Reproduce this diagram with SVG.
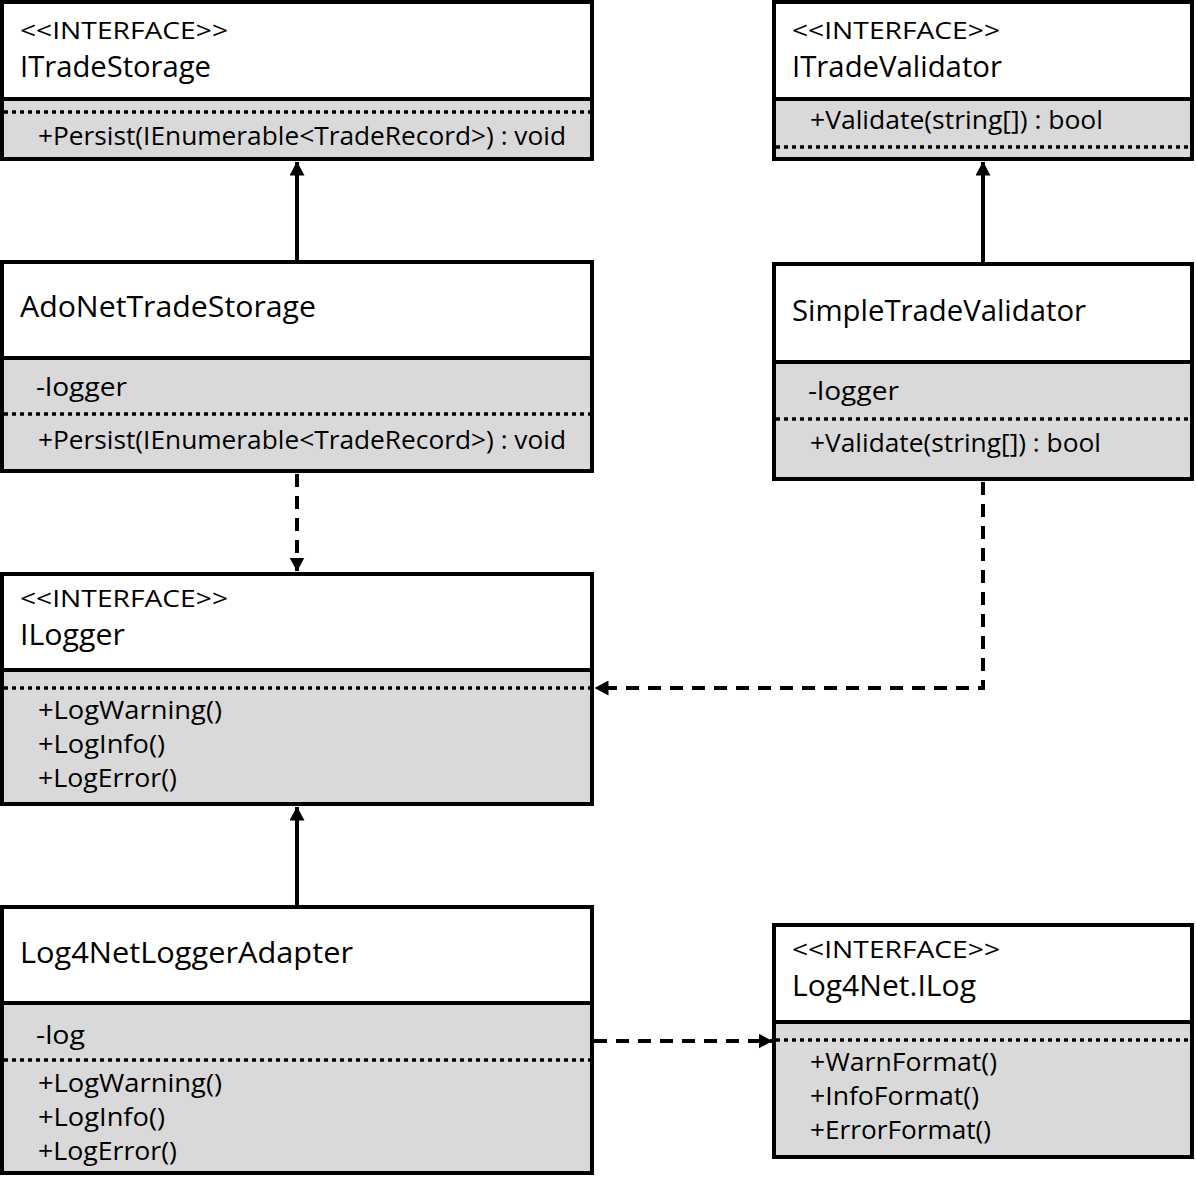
<svg xmlns="http://www.w3.org/2000/svg" width="1196" height="1177" viewBox="0 0 1196 1177">
<style>
.hdr{fill:#fff}
.body{fill:#d9d9d9}
.frame{fill:none;stroke:#000;stroke-width:4}
.div{stroke:#000;stroke-width:4}
.dot{stroke:#000;stroke-width:3.5;stroke-dasharray:4 4}
text{font-family:"Open Sans","Noto Sans",sans-serif;fill:#000}
.st{font-size:23px}
.nm{font-size:29px}
.mb{font-size:25px}
.con{fill:none;stroke:#000;stroke-width:4}
.dash{stroke-dasharray:13 9}
</style>
<defs>
<marker id="tri" viewBox="0 0 14 15" refX="13.5" refY="7.5" markerWidth="14" markerHeight="15" markerUnits="userSpaceOnUse" orient="auto">
<path d="M0,0 L14,7.5 L0,15 Z" fill="#000"/>
</marker>
</defs>

<g id="ITradeStorage">
<rect class="body" x="2" y="2" width="590" height="157"/>
<rect class="hdr" x="2" y="2" width="590" height="97"/>
<line class="div" x1="2" y1="99" x2="592" y2="99"/>
<line class="dot" x1="4" y1="112" x2="590" y2="112"/>
<rect class="frame" x="2" y="2" width="590" height="157"/>
<text class="st" x="20" y="39" textLength="208" lengthAdjust="spacingAndGlyphs">&lt;&lt;INTERFACE&gt;&gt;</text>
<text class="nm" x="20" y="77" textLength="191" lengthAdjust="spacingAndGlyphs">ITradeStorage</text>
<text class="mb" x="38" y="145" textLength="528" lengthAdjust="spacingAndGlyphs">+Persist(IEnumerable&lt;TradeRecord&gt;) : void</text>
</g>

<g id="ITradeValidator">
<rect class="body" x="774" y="2" width="418" height="157"/>
<rect class="hdr" x="774" y="2" width="418" height="97"/>
<line class="div" x1="774" y1="99" x2="1192" y2="99"/>
<line class="dot" x1="776" y1="147" x2="1190" y2="147"/>
<rect class="frame" x="774" y="2" width="418" height="157"/>
<text class="st" x="792" y="39" textLength="208" lengthAdjust="spacingAndGlyphs">&lt;&lt;INTERFACE&gt;&gt;</text>
<text class="nm" x="792" y="77" textLength="210" lengthAdjust="spacingAndGlyphs">ITradeValidator</text>
<text class="mb" x="810" y="129" textLength="293" lengthAdjust="spacingAndGlyphs">+Validate(string[]) : bool</text>
</g>

<g id="AdoNetTradeStorage">
<rect class="body" x="2" y="262" width="590" height="209"/>
<rect class="hdr" x="2" y="262" width="590" height="96"/>
<line class="div" x1="2" y1="358" x2="592" y2="358"/>
<line class="dot" x1="4" y1="414" x2="590" y2="414"/>
<rect class="frame" x="2" y="262" width="590" height="209"/>
<text class="nm" x="20" y="317" textLength="296" lengthAdjust="spacingAndGlyphs">AdoNetTradeStorage</text>
<text class="mb" x="36" y="396" textLength="91" lengthAdjust="spacingAndGlyphs">-logger</text>
<text class="mb" x="38" y="449" textLength="528" lengthAdjust="spacingAndGlyphs">+Persist(IEnumerable&lt;TradeRecord&gt;) : void</text>
</g>

<g id="SimpleTradeValidator">
<rect class="body" x="774" y="264" width="418" height="215"/>
<rect class="hdr" x="774" y="264" width="418" height="98"/>
<line class="div" x1="774" y1="362" x2="1192" y2="362"/>
<line class="dot" x1="776" y1="419" x2="1190" y2="419"/>
<rect class="frame" x="774" y="264" width="418" height="215"/>
<text class="nm" x="792" y="321" textLength="294" lengthAdjust="spacingAndGlyphs">SimpleTradeValidator</text>
<text class="mb" x="808" y="400" textLength="91" lengthAdjust="spacingAndGlyphs">-logger</text>
<text class="mb" x="810" y="452" textLength="291" lengthAdjust="spacingAndGlyphs">+Validate(string[]) : bool</text>
</g>

<g id="ILogger">
<rect class="body" x="2" y="574" width="590" height="230"/>
<rect class="hdr" x="2" y="574" width="590" height="96"/>
<line class="div" x1="2" y1="670" x2="592" y2="670"/>
<line class="dot" x1="4" y1="688" x2="590" y2="688"/>
<rect class="frame" x="2" y="574" width="590" height="230"/>
<text class="st" x="20" y="607" textLength="208" lengthAdjust="spacingAndGlyphs">&lt;&lt;INTERFACE&gt;&gt;</text>
<text class="nm" x="20" y="645" textLength="105" lengthAdjust="spacingAndGlyphs">ILogger</text>
<text class="mb" x="38" y="719" textLength="184" lengthAdjust="spacingAndGlyphs">+LogWarning()</text>
<text class="mb" x="38" y="753" textLength="127" lengthAdjust="spacingAndGlyphs">+LogInfo()</text>
<text class="mb" x="38" y="787" textLength="139" lengthAdjust="spacingAndGlyphs">+LogError()</text>
</g>

<g id="Log4NetLoggerAdapter">
<rect class="body" x="2" y="907" width="590" height="266"/>
<rect class="hdr" x="2" y="907" width="590" height="96"/>
<line class="div" x1="2" y1="1003" x2="592" y2="1003"/>
<line class="dot" x1="4" y1="1060" x2="590" y2="1060"/>
<rect class="frame" x="2" y="907" width="590" height="266"/>
<text class="nm" x="20" y="963" textLength="333" lengthAdjust="spacingAndGlyphs">Log4NetLoggerAdapter</text>
<text class="mb" x="36" y="1044" textLength="49" lengthAdjust="spacingAndGlyphs">-log</text>
<text class="mb" x="38" y="1092" textLength="184" lengthAdjust="spacingAndGlyphs">+LogWarning()</text>
<text class="mb" x="38" y="1126" textLength="127" lengthAdjust="spacingAndGlyphs">+LogInfo()</text>
<text class="mb" x="38" y="1160" textLength="139" lengthAdjust="spacingAndGlyphs">+LogError()</text>
</g>

<g id="Log4NetILog">
<rect class="body" x="774" y="925" width="418" height="232"/>
<rect class="hdr" x="774" y="925" width="418" height="97"/>
<line class="div" x1="774" y1="1022" x2="1192" y2="1022"/>
<line class="dot" x1="776" y1="1040" x2="1190" y2="1040"/>
<rect class="frame" x="774" y="925" width="418" height="232"/>
<text class="st" x="792" y="958" textLength="208" lengthAdjust="spacingAndGlyphs">&lt;&lt;INTERFACE&gt;&gt;</text>
<text class="nm" x="792" y="996" textLength="184" lengthAdjust="spacingAndGlyphs">Log4Net.ILog</text>
<text class="mb" x="810" y="1071" textLength="187" lengthAdjust="spacingAndGlyphs">+WarnFormat()</text>
<text class="mb" x="810" y="1105" textLength="169" lengthAdjust="spacingAndGlyphs">+InfoFormat()</text>
<text class="mb" x="810" y="1139" textLength="181" lengthAdjust="spacingAndGlyphs">+ErrorFormat()</text>
</g>

<g id="connectors">
<line class="con" x1="297" y1="260" x2="297" y2="162" marker-end="url(#tri)"/>
<line class="con" x1="983" y1="262" x2="983" y2="162" marker-end="url(#tri)"/>
<line class="con dash" x1="297" y1="474" x2="297" y2="571" marker-end="url(#tri)"/>
<polyline class="con dash" points="983,482 983,688 595,688" marker-end="url(#tri)"/>
<line class="con" x1="297" y1="905" x2="297" y2="807" marker-end="url(#tri)"/>
<line class="con dash" x1="594" y1="1041" x2="772" y2="1041" marker-end="url(#tri)"/>
</g>
</svg>
